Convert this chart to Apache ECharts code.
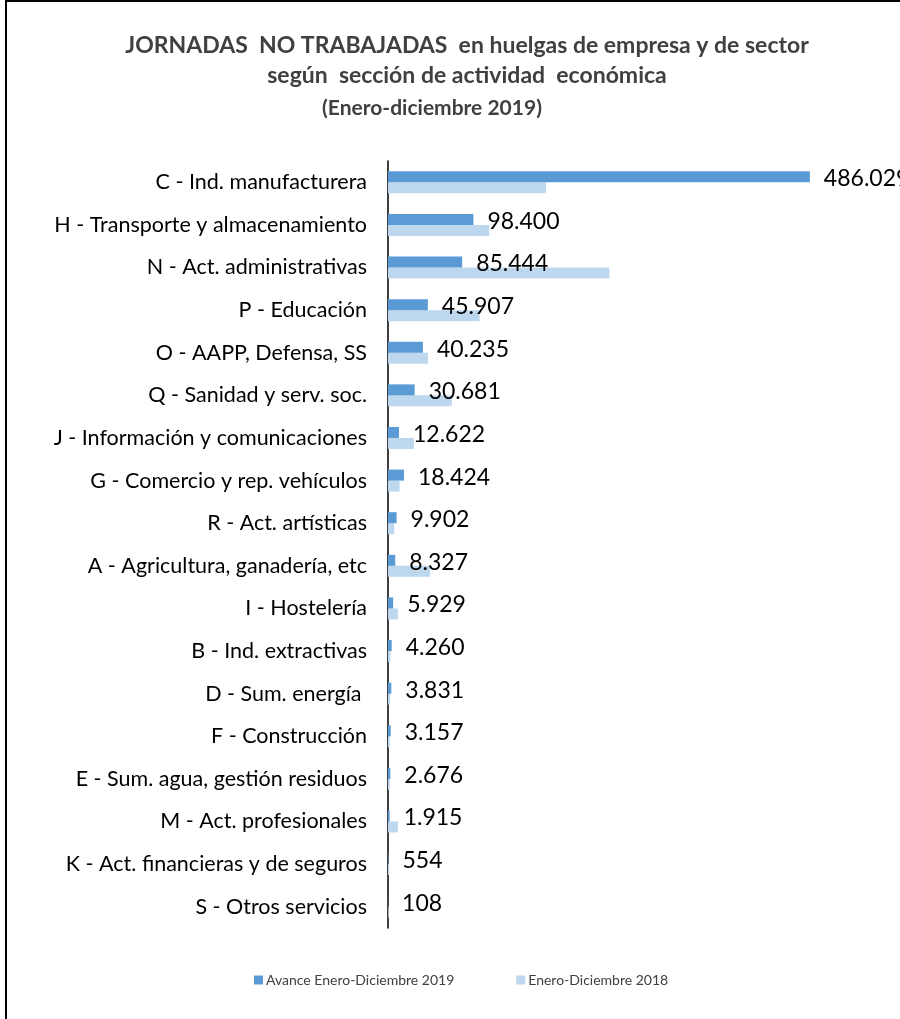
<!DOCTYPE html>
<html>
<head>
<meta charset="utf-8">
<script src="https://cdn.jsdelivr.net/npm/echarts@6/dist/echarts.min.js"></script>
<style>
  html, body { margin: 0; padding: 0; background: #fff; }
  #chart { width: 900px; height: 1019px; }
</style>
</head>
<body>
<div id="chart"></div>
<script>
  // secciones de actividad, de arriba a abajo
  const categories = [
    'C - Ind. manufacturera',
    'H - Transporte y almacenamiento',
    'N - Act. administrativas',
    'P - Educación',
    'O - AAPP, Defensa, SS',
    'Q - Sanidad y serv. soc.',
    'J - Información y comunicaciones',
    'G - Comercio y rep. vehículos',
    'R - Act. artísticas',
    'A - Agricultura, ganadería, etc',
    'I - Hostelería',
    'B - Ind. extractivas',
    'D - Sum. energía ',
    'F - Construcción',
    'E - Sum. agua, gestión residuos',
    'M - Act. profesionales',
    'K - Act. financieras y de seguros',
    'S - Otros servicios'
  ]
  const jornadas2019 = [486029, 98400, 85444, 45907, 40235, 30681, 12622, 18424, 9902, 8327, 5929, 4260, 3831, 3157, 2676, 1915, 554, 108]
  // 2018 (aprox.)
  const jornadas2018 = [182000, 116700, 255000, 105500, 46000, 73500, 29800, 13300, 7100, 48500, 11300, 2800, 2500, 2000, 2000, 11300, 1500, 800]

  const fmt = v => String(v).replace(/\B(?=(\d{3})+(?!\d))/g, '.')

  const chart = echarts.init(document.getElementById('chart'))
  chart.setOption({
    animation: false,
    textStyle: { fontFamily: 'Lato' },
    graphic: [
      {
        type: 'rect',
        shape: { x: 6, y: 1, width: 1000, height: 1100 },
        style: { fill: 'none', stroke: '#000', lineWidth: 2 },
        silent: true
      }
    ],
    title: [
      {
        text: 'JORNADAS  NO TRABAJADAS  en huelgas de empresa y de sector\nsegún  sección de actividad  económica',
        left: 462,
        top: 26,
        textAlign: 'center',
        textStyle: { fontSize: 23, fontWeight: 'bold', color: '#404040', lineHeight: 30, fontFamily: 'Lato' }
      },
      {
        text: '(Enero-diciembre 2019)',
        left: 427,
        top: 93,
        textAlign: 'center',
        textStyle: { fontSize: 21, fontWeight: 'bold', color: '#404040', fontFamily: 'Lato' }
      }
    ],
    legend: {
      data: ['Avance Enero-Diciembre 2019', 'Enero-Diciembre 2018'],
      left: 249,
      top: 968,
      itemWidth: 9,
      itemHeight: 9,
      itemGap: 62,
      icon: 'rect',
      textStyle: { fontSize: 14, color: '#404040', padding: [0, 0, 0, -2] }
    },
    grid: {
      left: 388,
      top: 161,
      width: 434,
      height: 767
    },
    xAxis: {
      type: 'value',
      min: 0,
      max: 500000,
      show: false,
      splitLine: { show: false }
    },
    yAxis: {
      type: 'category',
      data: categories,
      inverse: true,
      axisLine: { lineStyle: { color: '#000', width: 1.5 } },
      axisTick: { show: false },
      axisLabel: { color: '#000', fontSize: 21.5, margin: 21 }
    },
    series: [
      {
        name: 'Avance Enero-Diciembre 2019',
        type: 'bar',
        data: jornadas2019,
        barWidth: 11,
        barGap: '0%',
        itemStyle: { color: '#5B9BD5' },
        label: {
          show: true,
          position: 'right',
          distance: 14,
          offset: [0, 2],
          fontSize: 23,
          color: '#000',
          formatter: p => fmt(p.value)
        }
      },
      {
        name: 'Enero-Diciembre 2018',
        type: 'bar',
        data: jornadas2018,
        barWidth: 11,
        itemStyle: { color: '#BDD7EE' },
        z: 1
      }
    ]
  })
</script>
</body>
</html>
